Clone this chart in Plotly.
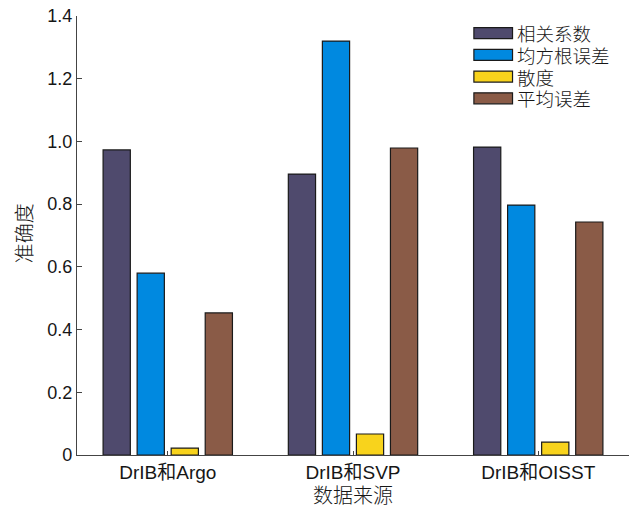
import plotly.graph_objects as go

categories = ["DrIB和Argo", "DrIB和SVP", "DrIB和OISST"]
series_names = ["相关系数", "均方根误差", "散度", "平均误差"]
corr = [0.973, 0.896, 0.982]
rmse = [0.580, 1.320, 0.797]
spread = [0.022, 0.067, 0.041]
mean_err = [0.453, 0.979, 0.743]
series_values = [corr, rmse, spread, mean_err]
colors = ["#4F4A6D", "#0089E0", "#F8D31C", "#8A5B47"]

y_ticks = [0, 0.2, 0.4, 0.6, 0.8, 1.0, 1.2, 1.4]
y_tick_text = ["0", "0.2", "0.4", "0.6", "0.8", "1.0", "1.2", "1.4"]

FONT = "Liberation Sans, Arial, Noto Sans CJK SC, sans-serif"
CJK = "Noto Sans CJK SC, Liberation Sans, sans-serif"
TXT = "#161616"

fig = go.Figure()
for name, vals, col in zip(series_names, series_values, colors):
    fig.add_trace(go.Bar(
        x=list(range(len(categories))), y=vals, name=name,
        marker=dict(color=col, line=dict(color="#1a1a1a", width=1.2)),
        showlegend=False,
    ))

# legend keys drawn as boxes with labels
for i, (name, col) in enumerate(zip(series_names, colors)):
    yc = 0.961 - i * 0.0495
    fig.add_shape(type="rect", xref="paper", yref="paper",
                  x0=0.719, x1=0.789, y0=yc - 0.0125, y1=yc + 0.0125,
                  fillcolor=col, line=dict(color="#1a1a1a", width=1.2))
    fig.add_annotation(xref="paper", yref="paper", x=0.795, y=yc,
                       text=name, showarrow=False, xanchor="left",
                       yanchor="middle", height=20, borderpad=0,
                       font=dict(family=CJK, size=18.5, color=TXT, weight=300))

# y-axis title placed as a rotated annotation
fig.add_annotation(xref="paper", yref="paper", x=-0.098, y=0.505,
                   text="准确度", textangle=-90, showarrow=False,
                   xanchor="center", yanchor="middle",
                   font=dict(family=CJK, size=20, color=TXT, weight=300))

fig.update_layout(
    width=629, height=509,
    margin=dict(l=77, r=0, t=16, b=54),
    paper_bgcolor="white", plot_bgcolor="white",
    barmode="group", bargap=0.265, bargroupgap=0.2,
    showlegend=False,
    font=dict(family=FONT, size=16, color=TXT),
    xaxis=dict(
        range=[-0.49, 2.49],
        tickvals=list(range(len(categories))), ticktext=categories,
        ticks="inside", ticklen=4, tickcolor="#444",
        showline=True, linecolor="#444", linewidth=1.3,
        showgrid=False, zeroline=False,
        tickfont=dict(family=FONT, size=19, color=TXT),
        title=dict(text="数据来源", font=dict(family=CJK, size=20, color=TXT, weight=300), standoff=2),
    ),
    yaxis=dict(
        range=[0, 1.4],
        tickvals=y_ticks, ticktext=y_tick_text,
        ticks="inside", ticklen=5, tickcolor="#444",
        showline=True, linecolor="#444", linewidth=1.3,
        showgrid=False, zeroline=False,
        tickfont=dict(family=FONT, size=18, color=TXT),
    ),
)

fig.write_html("out.html")
